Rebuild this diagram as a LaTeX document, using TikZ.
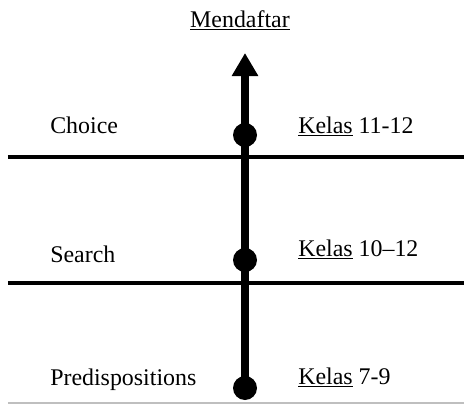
\documentclass[tikz,border=0pt]{standalone}
\usepackage{fontspec}
\setmainfont{Liberation Serif}
\usepackage{tikz}
\usetikzlibrary{positioning}
\usetikzlibrary{arrows.meta,calc}

\tikzset{
  dot/.style={circle,fill=black,minimum size=0.6cm,inner sep=0pt},
  stage/.style={anchor=base west,inner sep=0pt,font=\fontsize{17}{20}\selectfont},
  grade/.style={anchor=base west,inner sep=0pt,font=\fontsize{17}{20}\selectfont},
  divider/.style={line width=0.1cm},
  timeline/.style={line width=0.2cm,-{Triangle[width=0.625cm,length=0.575cm]}}
}

\begin{document}
\begin{tikzpicture}
\useasboundingbox (0,0) rectangle (11.6,10.15);

% dots on the time line
\node[dot] (pred) at (6.125,0.45) {};
\node[dot] (search) at (6.125,3.65) {};
\node[dot] (choice) at (6.125,6.775) {};
\coordinate (top) at (6.125,8.825);

% dividing lines
\coordinate (d1l) at (0.2,6.225);
\coordinate (d1r) at (11.6,6.225);
\coordinate (d2l) at (0.2,3.075);
\coordinate (d2r) at (11.6,3.075);
\coordinate (bl) at (0.2,0.075);
\coordinate (br) at (11.6,0.075);
\draw[divider] (d1l) -- (d1r);
\draw[divider] (d2l) -- (d2r);
\draw[gray!50,line width=1pt] (bl) -- (br);

\draw[timeline] (pred.center) -- (top);

\node[anchor=base,inner sep=0pt,font=\fontsize{17}{20}\selectfont] (mendaftar) at (6.0,9.475) {\underline{Mendaftar}};

% stages
\node[stage] (choicelbl) at (1.25,6.825) {Choice};
\node[stage] (searchlbl) at (1.25,3.6) {Search};
\node[stage] (predlbl) at (1.25,0.525) {Predispositions};

% grades
\node[grade] (k1) at (7.45,6.825) {\underline{Kelas} 11-12};
\node[grade] (k2) at (7.45,3.75) {\underline{Kelas} 10--12};
\node[grade] (k3) at (7.45,0.55) {\underline{Kelas} 7-9};

\end{tikzpicture}
\end{document}
